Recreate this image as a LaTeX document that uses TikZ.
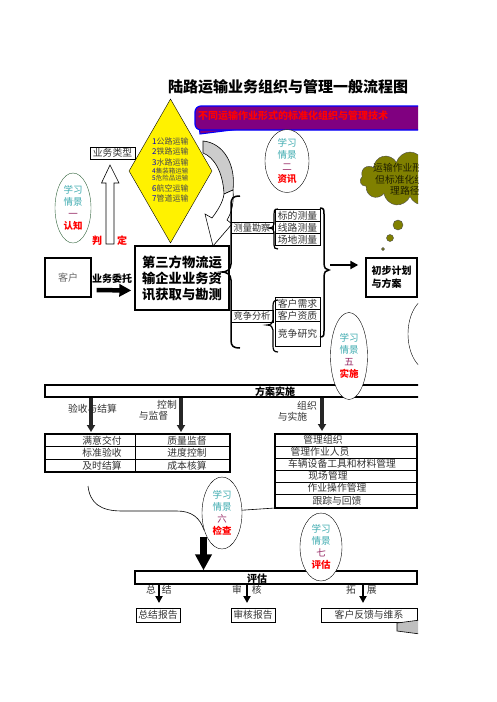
\documentclass[tikz,border=0pt]{standalone}
\usepackage{fontspec}
\setmainfont{Noto Sans CJK SC}
\usetikzlibrary{positioning, arrows.meta, shapes.geometric, shapes.symbols}
\definecolor{qjteal}{RGB}{60,170,175}
\definecolor{qjnum}{RGB}{150,40,100}
\definecolor{qjgreen}{RGB}{50,100,60}
\definecolor{hfpurple}{RGB}{128,0,128}
\definecolor{ylolive}{RGB}{128,128,0}
\newcommand{\qjtxt}[2]{{\color{qjteal}学习}\\{\color{qjteal}情景}\\{\color{qjnum}#1}\\{\color{red}\bfseries #2}}
\newcommand{\dnum}[1]{\textcolor{blue!80!black}{#1}}

\begin{document}
\begin{tikzpicture}[x=1pt, y=-1pt,
  box/.style={draw, line width=0.6pt, inner sep=0pt, outer sep=0pt, minimum height=12pt, font=\fontsize{9.8}{10}\selectfont, text=black!80},
  bbox/.style={draw, line width=1.4pt, inner sep=2pt, align=left, font=\fontsize{10}{13}\selectfont\bfseries},
  txt/.style={inner sep=0pt, font=\fontsize{9.8}{10}\selectfont, text=black!80},
  btxt/.style={inner sep=0pt, font=\fontsize{10}{10}\selectfont\bfseries},
  dtxt/.style={inner sep=0pt, anchor=west, text=black!70, font=\fontsize{8}{8}\selectfont},
  qj/.style={draw, ellipse, fill=white, inner sep=0pt, align=center, font=\fontsize{9.5}{11.8}\selectfont},
  band/.style={draw, line width=1.4pt, inner sep=0pt},
  brc/.style={line width=1.5pt},
  barr/.style={-{Triangle[length=12pt, width=12pt]}, line width=4.5pt},
  marr/.style={-{Triangle[length=8pt, width=8pt]}, line width=2.5pt},
  darr/.style={-{Triangle[length=7pt, width=8pt]}, line width=3.5pt, black!85},
  sarr/.style={-{Triangle[length=7pt, width=7pt]}, line width=2pt}
]
\useasboundingbox (0,0) rectangle (496,702);
\begin{scope}
\clip (0,0) rectangle (418,702);

% title and banner
\node (tt) [inner sep=0pt, font=\fontsize{15}{15}\selectfont\bfseries] at (288,87) {陆路运输业务组织与管理一般流程图};
\draw[fill=hfpurple, draw=blue, line width=1pt] (236,129.5) -- (200,134) -- (199,126) -- cycle;
\node (hf) [draw=blue, line width=1.2pt, fill=hfpurple, rounded corners=6pt, minimum width=250pt, minimum height=24pt] at (320,118) {};
\node (hft) [inner sep=0pt, anchor=west, text=red, font=\fontsize{10}{10}\selectfont\bfseries] at (198,116) {不同运输作业形式的标准化组织与管理技术};

% type diamond
\node (ys) [diamond, draw, fill=yellow, inner sep=0pt, minimum width=83pt, minimum height=144pt] at (170.5,171) {};
\node (d1) [dtxt] at (152,141) {\dnum{1}公路运输};
\node (d2) [dtxt] at (152,151) {\dnum{2}铁路运输};
\node (d3) [dtxt] at (152,162) {\dnum{3}水路运输};
\node (d4) [dtxt, font=\fontsize{6.5}{6.5}\selectfont] at (152,171) {\dnum{4}集装箱运输};
\node (d5) [dtxt, font=\fontsize{6.5}{6.5}\selectfont] at (152,178) {\dnum{5}危险品运输};
\node (d6) [dtxt] at (152,188) {\dnum{6}航空运输};
\node (d7) [dtxt] at (152,198) {\dnum{7}管道运输};

\node (yl) [box, line width=1pt, minimum width=45pt] at (112.5,153) {业务类型};
\draw[fill=white, line width=0.6pt] (106,244) -- (106,183) -- (101.5,183) -- (110,165) -- (119,183) -- (114,183) -- (114,244) -- cycle;
\node (pd1) [btxt, text=red] at (97,241) {判};
\node (pd2) [btxt, text=red] at (122,241) {定};

\node (qa) [qj, draw=qjgreen, minimum width=36pt, minimum height=70pt] at (73,208) {\qjtxt{一}{认知}};
\node (qb) [qj, minimum width=44pt, minimum height=62pt] at (287,161) {\qjtxt{二}{资讯}};

% gray turning arrow
\draw[fill=gray!40, line width=0.6pt] (203,141) .. controls (224,143) and (236,165) .. (233,190) -- (224,194) .. controls (223,172) and (214,157) .. (203,153) -- cycle;
\draw[fill=white, line width=0.6pt] (233,190) .. controls (234,202) and (232,212) .. (227,220) -- (232,224) -- (213,246) -- (205,214) -- (212,218) .. controls (218,210) and (223,202) .. (224,194) -- cycle;

% customer and main box
\node (kh) [draw, line width=1.2pt, minimum width=46pt, minimum height=39pt, text=black!60, font=\fontsize{10}{10}\selectfont] at (68,277.5) {客户};
\node (yw) [btxt] at (112,279) {业务委托};
\node (zb) [bbox, minimum width=94pt, minimum height=64pt, font=\fontsize{13.3}{16}\selectfont\bfseries] at (182,278) {第三方物流运\\输企业业务资\\讯获取与勘测};
\draw[barr, shorten <=5pt, shorten >=3pt] ([yshift=-12.5pt]kh.east) -- ([yshift=-12.5pt]zb.west);

% survey and competition
\node (cl) [box, minimum width=42pt, minimum height=11pt, font=\fontsize{9.2}{10}\selectfont] at (252,227.5) {测量勘察};
\node (bd) [box, minimum width=45pt] at (297.5,215.5) {标的测量};
\node (xl) [box, minimum width=45pt, below=0pt of bd] {线路测量};
\node (cd) [box, minimum width=45pt, below=0pt of xl] {场地测量};
\node (jf) [box, minimum width=42pt, font=\fontsize{9.2}{10}\selectfont] at (252,316) {竞争分析};
\node (kx) [box, minimum width=45pt] at (297.5,303.5) {客户需求};
\node (kz) [box, minimum width=45pt, below=0pt of kx] {客户资质};
\node (jy) [box, minimum width=45pt, minimum height=25pt, below=0pt of kz] {竞争研究};

\draw[brc] (240,196) .. controls (233,196) and (231,198) .. (231,205) -- (231,264) .. controls (231,270) and (226,272) .. (222,272) .. controls (226,272) and (231,274) .. (231,280) -- (231,340) .. controls (231,346) and (233,348) .. (240,348);
\draw[brc] (320,208) .. controls (324,208) and (324,210) .. (324,214) -- (324,263) .. controls (324,268) and (326,270) .. (329,270) .. controls (326,270) and (324,272) .. (324,277) -- (324,331) .. controls (324,335) and (324,337) .. (320,337);
\draw[line width=1.2pt] (278,209) .. controls (274,209) and (274,211) .. (274,214) -- (274,224) .. controls (274,227) and (272,228) .. (269,228) .. controls (272,228) and (274,229) .. (274,232) -- (274,245) .. controls (274,248) and (275,249) .. (278,249);
\draw[line width=1.2pt] (278,300) .. controls (274,300) and (273,302) .. (273,306) -- (273,320) .. controls (273,323) and (271,325) .. (267,325) .. controls (271,325) and (273,327) .. (273,330) -- (273,346) .. controls (273,350) and (274,352) .. (278,352);

\node (cb) [bbox, minimum width=51pt, minimum height=39pt] at (391.5,277.5) {初步计划\\与方案};
\coordinate (rb) at (330,265);
\draw[marr] (rb) -- ([yshift=12.5pt, xshift=-7pt]cb.west);

% thought cloud
\node (yun) [cloud, cloud puffs=11, aspect=2, draw=black!70, fill=ylolive, minimum width=100pt, minimum height=54pt] at (410,179) {};
\node (y1) [txt, anchor=west, text=ylolive!25!black] at (373,168) {运输作业形式};
\node (y2) [txt, anchor=west, text=ylolive!25!black] at (375,180) {但标准化组织};
\node (y3) [txt, anchor=west, text=ylolive!25!black] at (390,191) {理路径};
\draw[fill=ylolive, draw=black!70] (398,225) circle (5);
\draw[fill=ylolive, draw=black!70] (390,238) circle (3.5);
\draw[fill=ylolive, draw=black!70] (383,249) circle (1.5);
\node (qr) [draw, ellipse, fill=white, minimum width=46pt, minimum height=74pt] at (431,334) {};

% plan implementation
\node (fa) [band, minimum width=385pt, minimum height=12pt] at (237.5,391) {};
\node (fat) [btxt] at (275,391.5) {方案实施};
\node (qe) [qj, minimum width=37pt, minimum height=87pt] at (349,356) {\qjtxt{五}{实施}};

\draw[line width=1.3pt] (45,434) rectangle (230,472);
\draw[line width=0.6pt] (45,446.7) -- (230,446.7) (45,459) -- (230,459) (135,434) -- (135,472);
\node (zt1) [txt] at (102,440.5) {满意交付};
\node (zt2) [txt] at (102,453) {标准验收};
\node (zt3) [txt] at (102,465.5) {及时结算};
\node (zt4) [txt] at (187,440.5) {质量监督};
\node (zt5) [txt] at (187,453) {进度控制};
\node (zt6) [txt] at (187,465.5) {成本核算};

\node (r1) [box, minimum width=142pt] at (346,440) {};
\node (r2) [box, minimum width=142pt, below=0pt of r1] {};
\node (r3) [box, minimum width=142pt, below=0pt of r2] {};
\node (r4) [box, minimum width=142pt, below=0pt of r3] {};
\node (r5) [box, minimum width=142pt, below=0pt of r4] {};
\node (r6) [box, minimum width=142pt, minimum height=14pt, below=0pt of r5] {};
\draw[line width=1.3pt] (r1.north west) rectangle (r6.south east);
\node (t1) [txt] at (323,440) {管理组织};
\node (t2) [txt] at (320,452) {管理作业人员};
\node (t3) [txt] at (342,464) {车辆设备工具和材料管理};
\node (t4) [txt] at (328,476) {现场管理};
\node (t5) [txt] at (337,488) {作业操作管理};
\node (t6) [txt] at (337,501) {跟踪与回馈};

\node (l1) [txt] at (92.5,409) {验收与结算};
\node (l2) [txt] at (167,405) {控制};
\node (l3) [txt] at (153.5,416) {与监督};
\node (l4) [txt] at (307,405.5) {组织};
\node (l5) [txt] at (292.5,416.5) {与实施};
\coordinate (a1) at (91,432);
\coordinate (a2) at (181,432);
\coordinate (a3) at (322,431);
\draw[darr] (a1 |- fa.south) -- (a1);
\draw[darr] (a2 |- fa.south) -- (a2);
\draw[darr] (a3 |- fa.south) -- (a3);

% check loop
\draw[line width=0.6pt] (88,486) .. controls (90,503) and (100,511) .. (122,511) -- (177,511) .. controls (192,511) and (200,518) .. (204,530) -- (230,511) -- (r6.south west);
\node (qf) [qj, minimum width=40pt, minimum height=72pt] at (222,513) {\qjtxt{六}{检查}};
\coordinate (jc) at (203.5,537);

% evaluation
\node (pg) [band, minimum width=282pt, minimum height=13pt] at (276,577.5) {};
\node (pgt) [btxt] at (257,579) {评估};
\draw[line width=7pt, -{Triangle[length=16pt, width=16pt]}] (jc) -- (jc |- pg.north);
\node (qg) [qj, minimum width=42pt, minimum height=68pt] at (321,547) {\qjtxt{七}{评估}};

\node (m1) [txt] at (159,590) {总\hspace{6pt}结};
\node (m2) [txt] at (247,590) {审\hspace{10pt}核};
\node (m3) [txt] at (361.5,590) {拓\hspace{11pt}展};
\node (zj) [box, line width=1pt, minimum width=44pt, minimum height=14pt] at (158,615) {总结报告};
\node (sh) [box, line width=1pt, minimum width=44pt, minimum height=14pt] at (253,615) {审核报告};
\node (kf) [box, line width=1pt, minimum width=96pt, minimum height=14pt] at (369,615) {客户反馈与维系};
\coordinate (b1) at (159,603);
\coordinate (b2) at (247,603);
\coordinate (b3) at (363,603);
\draw[sarr] (b1 |- pg.south) -- (b1);
\draw[sarr] (b2 |- pg.south) -- (b2);
\draw[sarr] (b3 |- pg.south) -- (b3);
\draw[fill=gray!50, line width=0.6pt] (397,623) -- (420,620) -- (420,634) -- (397,631) -- cycle;
\end{scope}
\end{tikzpicture}
\end{document}
